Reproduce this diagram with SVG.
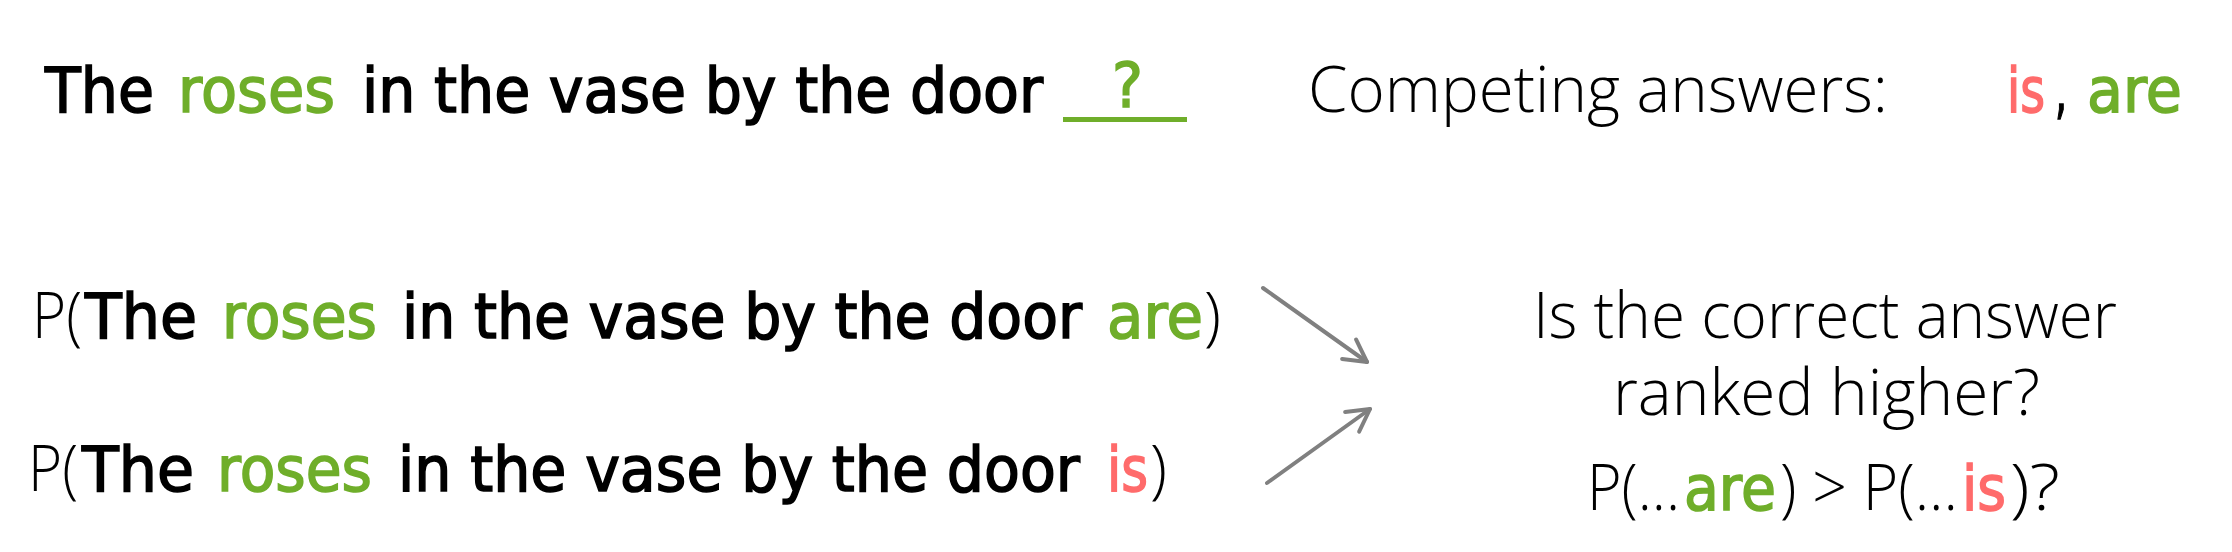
<svg xmlns="http://www.w3.org/2000/svg" width="2232" height="552" viewBox="0 0 2232 552">
<defs>
<style>
.c{font-family:"DejaVu Sans","Liberation Sans",sans-serif;font-size:62px;fill:#000;stroke:#000;stroke-width:1.6}
.s{font-family:"Open Sans","Lato","Liberation Sans",sans-serif;font-weight:300;font-size:65px;fill:#000}
.g{fill:#6FAE2A;stroke:#6FAE2A}
.r{fill:#FF6B6B;stroke:#FF6B6B}
.arr{stroke:#808080;stroke-width:4;fill:none;stroke-linecap:round}
</style>
<marker id="ah" markerUnits="userSpaceOnUse" viewBox="0 0 30 30" markerWidth="30" markerHeight="30" refX="27" refY="15" orient="auto">
<path d="M5,3 L27,15 L5,27" fill="none" stroke="#808080" stroke-width="4" stroke-linecap="round" stroke-linejoin="round"/>
</marker>
</defs>
<rect width="2232" height="552" fill="#fff"/>

<g id="sentence">
<text class="c" x="45" y="112" textLength="109" lengthAdjust="spacingAndGlyphs">The</text>
<text class="c g" x="178" y="112" textLength="157" lengthAdjust="spacingAndGlyphs">roses</text>
<text class="c" x="362" y="112" textLength="681" lengthAdjust="spacingAndGlyphs">in the vase by the door</text>
<text class="c g" x="1112" y="107" font-size="68" textLength="31" lengthAdjust="spacingAndGlyphs">?</text>
<rect x="1063" y="117" width="124" height="5" fill="#6FAE2A"/>
</g>

<g id="competing">
<text class="s" x="1308" y="112" textLength="580" lengthAdjust="spacingAndGlyphs">Competing answers:</text>
<text class="c r" x="2007" y="112" textLength="38" lengthAdjust="spacingAndGlyphs">is</text>
<text class="c" x="2055" y="112" textLength="12" lengthAdjust="spacingAndGlyphs">,</text>
<text class="c g" x="2087" y="112" textLength="95" lengthAdjust="spacingAndGlyphs">are</text>
</g>

<g id="p-are">
<text class="s" x="32" y="338" textLength="50" lengthAdjust="spacingAndGlyphs">P(</text>
<text class="c" x="85" y="338" textLength="112" lengthAdjust="spacingAndGlyphs">The</text>
<text class="c g" x="222" y="338" textLength="155" lengthAdjust="spacingAndGlyphs">roses</text>
<text class="c" x="402" y="338" textLength="680" lengthAdjust="spacingAndGlyphs">in the vase by the door</text>
<text class="c g" x="1107" y="338" textLength="96" lengthAdjust="spacingAndGlyphs">are</text>
<text class="s" x="1204" y="338" textLength="17" lengthAdjust="spacingAndGlyphs">)</text>
</g>

<g id="p-is">
<text class="s" x="28" y="491" textLength="50" lengthAdjust="spacingAndGlyphs">P(</text>
<text class="c" x="82" y="491" textLength="112" lengthAdjust="spacingAndGlyphs">The</text>
<text class="c g" x="217" y="491" textLength="155" lengthAdjust="spacingAndGlyphs">roses</text>
<text class="c" x="398" y="491" textLength="682" lengthAdjust="spacingAndGlyphs">in the vase by the door</text>
<text class="c r" x="1107" y="491" textLength="41" lengthAdjust="spacingAndGlyphs">is</text>
<text class="s" x="1150" y="491" textLength="17" lengthAdjust="spacingAndGlyphs">)</text>
</g>

<g id="connectors">
<line class="arr" x1="1263" y1="288" x2="1367" y2="362" marker-end="url(#ah)"/>
<line class="arr" x1="1267" y1="483" x2="1370" y2="409" marker-end="url(#ah)"/>
</g>

<g id="question">
<text class="s" x="1533" y="338" textLength="584" lengthAdjust="spacingAndGlyphs">Is the correct answer</text>
<text class="s" x="1613" y="415" textLength="427" lengthAdjust="spacingAndGlyphs">ranked higher?</text>
<text class="s" x="1587" y="510" textLength="93" lengthAdjust="spacingAndGlyphs">P(...</text>
<text class="c g" x="1684" y="510" textLength="92" lengthAdjust="spacingAndGlyphs">are</text>
<text class="s" x="1780" y="510" textLength="178" lengthAdjust="spacingAndGlyphs">) &gt; P(...</text>
<text class="c r" x="1962" y="510" textLength="44" lengthAdjust="spacingAndGlyphs">is</text>
<text class="s" x="2010" y="510" textLength="50" lengthAdjust="spacingAndGlyphs">)?</text>
</g>
</svg>
